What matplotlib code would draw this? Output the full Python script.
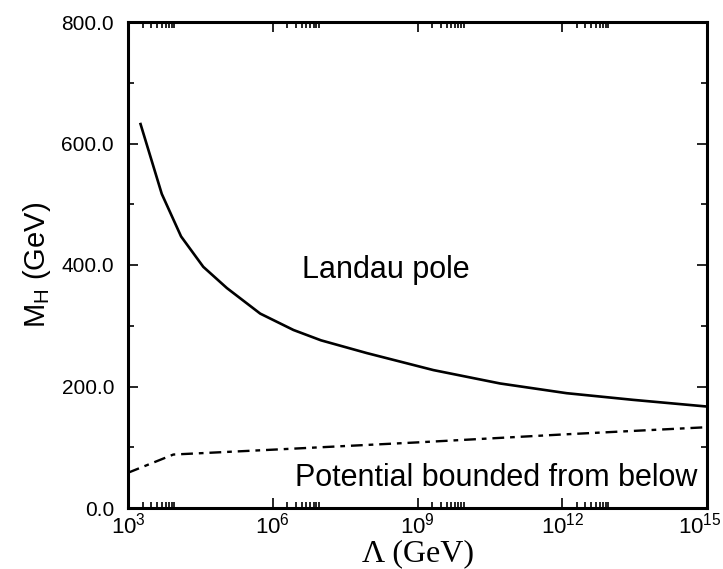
import numpy as np
import matplotlib
matplotlib.use('Agg')
import matplotlib.pyplot as plt
import matplotlib.transforms as mtransforms
from matplotlib.ticker import FixedLocator, NullFormatter

plt.rcParams['font.family'] = ['Liberation Sans', 'DejaVu Sans']
plt.rcParams['mathtext.fontset'] = 'custom'
plt.rcParams['mathtext.rm'] = 'Liberation Sans'
plt.rcParams['mathtext.it'] = 'Liberation Sans'

# Landau pole (upper bound)
lam_pole_exp = [3.26, 3.70, 4.10, 4.56, 5.05, 5.74, 6.43, 7.00, 7.95, 9.33, 10.71, 12.09, 13.47, 15.0]
mh_pole = [632, 517, 447, 397, 362, 320, 293, 276, 255, 227, 205, 189, 178, 167]

# vacuum stability (lower bound)
lam_vac_exp = [3.0, 3.94, 6.0, 9.0, 12.0, 15.0]
mh_vac = [58, 88, 96, 108, 121, 133]

yticks = [0, 200, 400, 600, 800]
xticks_exp = [3, 6, 9, 12, 15]

fig = plt.figure(figsize=(7.23, 5.69), dpi=100)
ax = fig.add_axes([128/723, 1 - 508/569, (707 - 128)/723, (508 - 22)/569])

ax.plot(10.0 ** np.array(lam_pole_exp), mh_pole, color='black', lw=1.9)
ax.plot(10.0 ** np.array(lam_vac_exp), mh_vac, color='black', lw=1.7,
        dashes=(5, 2.5, 2, 2.5))

ax.set_xscale('log')
ax.set_xlim(1e3, 1e15)
ax.set_ylim(0, 800)

ax.set_xticks([10.0 ** e for e in xticks_exp])
ax.set_xticklabels([r'$10^{%d}$' % e for e in xticks_exp], fontsize=16)
minor_x = [k * 10.0 ** e for e in [3, 6, 9, 12] for k in range(2, 10)]
ax.xaxis.set_minor_locator(FixedLocator(minor_x))
ax.xaxis.set_minor_formatter(NullFormatter())

ax.set_yticks(yticks)
ax.set_yticklabels(['%.1f' % v for v in yticks], fontsize=15)
ax.yaxis.set_minor_locator(FixedLocator([100, 300, 500, 700]))

ax.tick_params(which='both', direction='in', top=True, right=True, width=1.2)
ax.tick_params(which='major', length=7)
ax.tick_params(axis='x', which='major', pad=3)
ax.tick_params(axis='y', which='major', pad=10)
ax.tick_params(which='minor', length=4)
for s in ax.spines.values():
    s.set_linewidth(2.2)

# keep the last x label inside the figure, as in the original
last = ax.get_xticklabels()[-1]
last.set_transform(last.get_transform() +
                   mtransforms.ScaledTranslation(-7 / 100, 0, fig.dpi_scale_trans))

ax.set_xlabel('Λ (GeV)', family='Liberation Serif', fontsize=23, labelpad=1)
ax.set_ylabel(r'M$_\mathrm{H}$ (GeV)', fontsize=21, labelpad=6)

ax.text(10 ** 6.61, 392, 'Landau pole', fontsize=22, ha='left', va='center')
ax.text(10 ** 6.46, 49, 'Potential bounded from below', fontsize=22,
        ha='left', va='center')

fig.savefig('out.png', dpi=100)
